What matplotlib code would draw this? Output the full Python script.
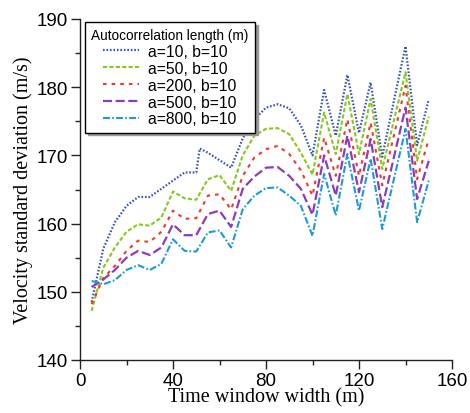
import matplotlib
matplotlib.use("Agg")
import matplotlib.pyplot as plt
from matplotlib.ticker import MultipleLocator

plt.rcParams['lines.scale_dashes'] = False

x = [5, 10, 15, 20, 25, 30, 35, 40, 45, 50, 55, 60, 65, 70, 75,
     80, 85, 90, 95, 100, 105, 110, 115, 120, 125, 130, 135, 140, 145, 150]
x_a10 = [5, 10, 15, 20, 25, 30, 35, 40, 45, 50, 51.5, 55, 60, 65, 70, 75,
         80, 85, 90, 95, 100, 105, 110, 115, 120, 125, 130, 135, 140, 145, 150]

a10 = [148.5, 156.3, 160.2, 162.6, 163.9, 163.9, 165.1, 166.3, 167.5, 167.5, 171.0,
       170.4, 169.3, 168.2, 172.5, 175.3, 177.0, 177.5, 176.9, 174.4, 170.0,
       179.6, 172.9, 181.8, 173.3, 180.7, 169.8, 178.0, 186.0, 171.5, 178.2]
a50 = [147.2, 153.5, 156.5, 158.8, 159.9, 159.7, 160.9, 164.7, 163.7, 163.5,
       166.5, 167.1, 164.8, 170.0, 172.9, 173.9, 174.0, 173.1, 170.4, 167.2,
       176.3, 170.2, 179.0, 170.2, 178.3, 168.0, 175.1, 182.2, 169.2, 175.7]
a200 = [148.2, 152.0, 153.8, 156.0, 157.5, 157.3, 158.8, 161.9, 160.7, 160.8,
        164.1, 164.3, 162.1, 167.0, 169.7, 170.9, 171.4, 170.2, 167.8, 164.1,
        172.6, 167.0, 175.3, 167.0, 174.8, 165.6, 172.9, 180.2, 166.5, 172.4]
a500 = [150.7, 151.8, 153.2, 155.0, 156.0, 155.4, 156.5, 159.9, 158.3, 158.3,
        161.4, 161.9, 159.5, 165.1, 166.9, 168.2, 168.3, 167.0, 165.1, 161.3,
        170.0, 164.1, 172.9, 164.6, 172.4, 162.4, 169.7, 177.0, 163.6, 169.2]
a800 = [151.6, 151.1, 151.7, 153.2, 153.9, 153.2, 154.1, 157.7, 156.0, 155.9,
        158.7, 159.0, 156.5, 162.1, 164.1, 165.2, 165.3, 164.1, 162.6, 158.2,
        167.3, 161.2, 170.2, 161.9, 169.5, 159.2, 166.5, 173.9, 160.2, 166.3]

labels = ["a=10, b=10", "a=50, b=10", "a=200, b=10", "a=500, b=10", "a=800, b=10"]
legend_title = "Autocorrelation length (m)"
x_label = "Time window width (m)"
y_label = "Velocity standard deviation (m/s)"

fig = plt.figure(figsize=(4.7, 4.14), dpi=100)
ax = fig.add_axes([80/470, 53/414, 372/470, 341/414])

sans = ['Liberation Sans', 'DejaVu Sans']
serif = ['Liberation Serif', 'DejaVu Serif']

ax.plot(x_a10, a10, color='#3a55b8', lw=1.6, ls=(0, (1.2, 1.3)), label=labels[0])
ax.plot(x, a50, color='#86c81e', lw=1.5, ls=(0, (3.0, 1.6)), label=labels[1])
ax.plot(x, a200, color='#ec3a2e', lw=1.5, ls=(0, (2.6, 3.6)), label=labels[2])
ax.plot(x, a500, color='#8a3dbb', lw=1.6, ls=(0, (6.5, 2.6)), label=labels[3])
ax.plot(x, a800, color='#1d9ad6', lw=1.5, ls=(0, (5.0, 1.6, 1.2, 1.6)), label=labels[4])

ax.set_xlim(0, 160)
ax.set_ylim(140, 190)
ax.xaxis.set_major_locator(MultipleLocator(40))
ax.xaxis.set_minor_locator(MultipleLocator(20))
ax.yaxis.set_major_locator(MultipleLocator(10))
ax.yaxis.set_minor_locator(MultipleLocator(5))

for s in ['top', 'right']:
    ax.spines[s].set_visible(False)
for s in ['left', 'bottom']:
    ax.spines[s].set_color('#222222')
    ax.spines[s].set_linewidth(1.0)

ax.tick_params(which='major', direction='out', length=6.5, width=1.0, color='#222222',
               labelsize=13.5, pad=2)
ax.tick_params(which='minor', direction='out', length=3.5, width=1.0, color='#222222')
for lab in ax.get_xticklabels() + ax.get_yticklabels():
    lab.set_family(sans)

ax.set_xlabel(x_label, family=serif, fontsize=14.5, labelpad=-1)
ax.set_ylabel(y_label, family=serif, fontsize=14.5, labelpad=3)

leg = ax.legend(title=legend_title, loc='upper left', bbox_to_anchor=(0.013, 0.992),
                borderaxespad=0, frameon=True, fancybox=False,
                shadow={'color': '0.6', 'alpha': 1.0},
                prop={'family': sans, 'size': 11.3},
                title_fontproperties={'family': sans, 'size': 9.8},
                handlelength=2.3, handletextpad=0.6, labelspacing=0.12, borderpad=0.4)
leg.get_frame().set_edgecolor('black')
leg.get_frame().set_linewidth(1.0)

fig.savefig('out.png', dpi=100)
